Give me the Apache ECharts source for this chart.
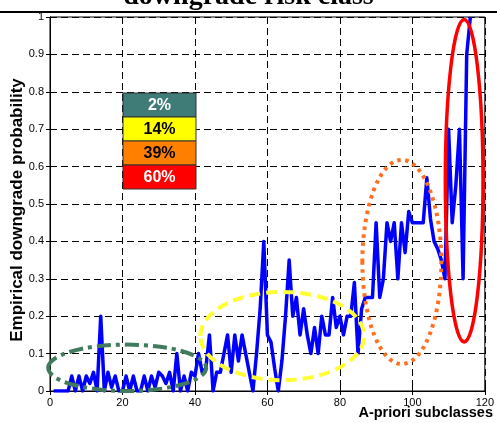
<!DOCTYPE html>
<html>
<head>
<meta charset="utf-8">
<script src="https://cdn.jsdelivr.net/npm/echarts@6/dist/echarts.min.js"></script>
<style>
  html, body { margin: 0; padding: 0; background: #fff; }
  #chart { width: 497px; height: 423px; }
</style>
</head>
<body>
<div id="chart"></div>
<script>
// A-priori subclass index (1..116)
const subclasses = [
  1, 2, 3, 4, 5, 6, 7, 8, 9, 10, 11, 12, 13, 14, 15, 16, 17, 18, 19, 20,
  21, 22, 23, 24, 25, 26, 27, 28, 29, 30, 31, 32, 33, 34, 35, 36, 37, 38, 39, 40,
  41, 42, 43, 44, 45, 46, 47, 48, 49, 50, 51, 52, 53, 54, 55, 56, 57, 58, 59, 60,
  61, 62, 63, 64, 65, 66, 67, 68, 69, 70, 71, 72, 73, 74, 75, 76, 77, 78, 79, 80,
  81, 82, 83, 84, 85, 86, 87, 88, 89, 90, 91, 92, 93, 94, 95, 96, 97, 98, 99, 100,
  101, 102, 103, 104, 105, 106, 107, 108, 109, 110, 111, 112, 113, 114, 115, 116
];

// Empirical downgrade probability per subclass
const downgradeProb = [
  0, 0, 0, 0, 0, 0.04, 0, 0.04, 0, 0.04, 0.02, 0.05, 0, 0.2, 0, 0.05, 0.01, 0.04, 0, 0,
  0.04, 0, 0.04, 0, 0, 0.04, 0, 0.04, 0.01, 0.05, 0.04, 0.02, 0.05, 0, 0.1, 0, 0.04, 0, 0.05, 0.04,
  0.1, 0.05, 0.06, 0.15, 0, 0.05, 0.05, 0.1, 0.15, 0.05, 0.15, 0.08, 0.15, 0.1, 0.05, 0, 0.1, 0.22, 0.4, 0.15,
  0.13, 0.06, 0, 0.08, 0.2, 0.35, 0.2, 0.25, 0.15, 0.22, 0.15, 0.1, 0.17, 0.1, 0.2, 0.15, 0.15, 0.25, 0.17, 0.2,
  0.15, 0.2, 0.2, 0.29, 0.1, 0.22, 0.25, 0.25, 0.25, 0.45, 0.25, 0.3, 0.45, 0.4, 0.45, 0.3, 0.45, 0.37, 0.48, 0.45,
  0.45, 0.45, 0.45, 0.57, 0.46, 0.4, 0.38, 0.35, 0.3, 0.7, 0.45, 0.55, 0.7, 0.3, 0.9, 1.0
];

// Axis ticks
const xTicks = [0, 20, 40, 60, 80, 100, 120];
const yTicks = [0, 0.1, 0.2, 0.3, 0.4, 0.5, 0.6, 0.7, 0.8, 0.9, 1];

// Risk-class legend: label and fill
const riskLabels = ['2%', '14%', '39%', '60%'];
const riskColors = ['#3f7b77', '#ffff00', '#ff8000', '#ff0000'];
const riskTextColors = ['#ffffff', '#000000', '#000000', '#ffffff'];

// Risk-class ellipses in data units: centre x, centre y, half-width, half-height
const classCx = [21.3, 64.1, 97.1, 114.3];
const classCy = [0.062, 0.147, 0.345, 0.562];
const classRx = [21.8, 22.6, 10.9, 5.2];
const classRy = [0.062, 0.118, 0.273, 0.431];
const classStroke = ['#417a5c', '#ffff33', '#ff6f1f', '#ff0000'];

const chart = echarts.init(document.getElementById('chart'), null, { renderer: 'canvas' });

const gridLine = { show: true, lineStyle: { color: '#000', type: [7, 4], width: 1 } };
const labelFont = { fontFamily: 'Arial, "Liberation Sans", sans-serif', fontSize: 11, color: '#000' };

chart.setOption({
  animation: false,
  backgroundColor: '#fff',
  grid: { left: 50, right: 7, top: 17, bottom: 32, show: true, borderColor: '#000', borderWidth: 1, backgroundColor: 'transparent' },
  xAxis: [{
    type: 'value', min: xTicks[0], max: xTicks[xTicks.length - 1], interval: 20,
    axisLine: { show: true, onZero: false, lineStyle: { color: '#000', width: 1 } },
    axisTick: { show: true, inside: true, length: 4, lineStyle: { color: '#000' } },
    axisLabel: Object.assign({ margin: 6 }, labelFont),
    splitLine: gridLine
  }, {
    type: 'value', position: 'top', min: xTicks[0], max: xTicks[xTicks.length - 1], interval: 20,
    axisLine: { show: true, lineStyle: { color: '#000' } },
    axisTick: { show: true, inside: true, length: 4, lineStyle: { color: '#000' } },
    axisLabel: { show: false }, splitLine: { show: false }
  }],
  yAxis: [{
    type: 'value', min: yTicks[0], max: yTicks[yTicks.length - 1], interval: 0.1,
    axisLine: { show: true, onZero: false, lineStyle: { color: '#000', width: 1 } },
    axisTick: { show: true, inside: true, length: 4, lineStyle: { color: '#000' } },
    axisLabel: Object.assign({ margin: 6, formatter: v => String(+v.toFixed(1)) }, labelFont),
    splitLine: gridLine
  }, {
    type: 'value', position: 'right', min: yTicks[0], max: yTicks[yTicks.length - 1], interval: 0.1,
    axisLine: { show: true, lineStyle: { color: '#000' } },
    axisTick: { show: true, inside: true, length: 4, lineStyle: { color: '#000' } },
    axisLabel: { show: false }, splitLine: { show: false }
  }],
  series: [{
    type: 'line',
    data: subclasses.map((x, i) => [x, downgradeProb[i]]),
    showSymbol: false,
    lineStyle: { color: '#0000ff', width: 3.5, join: 'round' },
    z: 3
  }]
});

// Annotations: title bar, axis names, legend boxes and class ellipses
const graphics = [];

graphics.push({
  type: 'text', left: 'center', top: -17,
  style: { text: 'downgrade risk class', font: 'bold 28px "Liberation Serif", "Times New Roman", serif', fill: '#000' },
  z: 20
});
graphics.push({ type: 'rect', shape: { x: 0, y: 11, width: 497, height: 2 }, style: { fill: '#000' }, z: 21 });

graphics.push({
  type: 'text', x: 17, y: 210, rotation: Math.PI / 2,
  style: {
    text: 'Empirical downgrade probability',
    font: 'bold 17px Arial, "Liberation Sans", sans-serif', fill: '#000',
    align: 'center', verticalAlign: 'middle'
  },
  z: 20
});
graphics.push({
  type: 'text', x: 493, y: 413,
  style: {
    text: 'A-priori subclasses',
    font: 'bold 14.5px Arial, "Liberation Sans", sans-serif', fill: '#000',
    align: 'right', verticalAlign: 'middle'
  },
  z: 20
});

riskLabels.forEach((label, i) => {
  const y0 = 93 + i * 24;
  graphics.push({
    type: 'rect', shape: { x: 123, y: y0, width: 73, height: 24 },
    style: { fill: riskColors[i], stroke: '#333', lineWidth: 1 }, z: 15
  });
  graphics.push({
    type: 'text', x: 159.5, y: y0 + 12.5,
    style: {
      text: label, font: 'bold 16px Arial, "Liberation Sans", sans-serif',
      fill: riskTextColors[i], align: 'center', verticalAlign: 'middle'
    },
    z: 16
  });
});

const dashStyles = [[14, 5, 4, 5], [11, 6], [3.5, 4.5], null];
const strokeWidths = [4, 4, 4, 3.5];
classCx.forEach((cx, i) => {
  const c = chart.convertToPixel({ gridIndex: 0 }, [cx, classCy[i]]);
  const e = chart.convertToPixel({ gridIndex: 0 }, [cx + classRx[i], classCy[i] + classRy[i]]);
  graphics.push({
    type: 'ellipse',
    shape: { cx: c[0], cy: c[1], rx: Math.abs(e[0] - c[0]), ry: Math.abs(c[1] - e[1]) },
    style: {
      fill: 'none', stroke: classStroke[i], lineWidth: strokeWidths[i],
      lineDash: dashStyles[i] || null
    },
    z: 10
  });
});

chart.setOption({ graphic: graphics });
</script>
</body>
</html>
